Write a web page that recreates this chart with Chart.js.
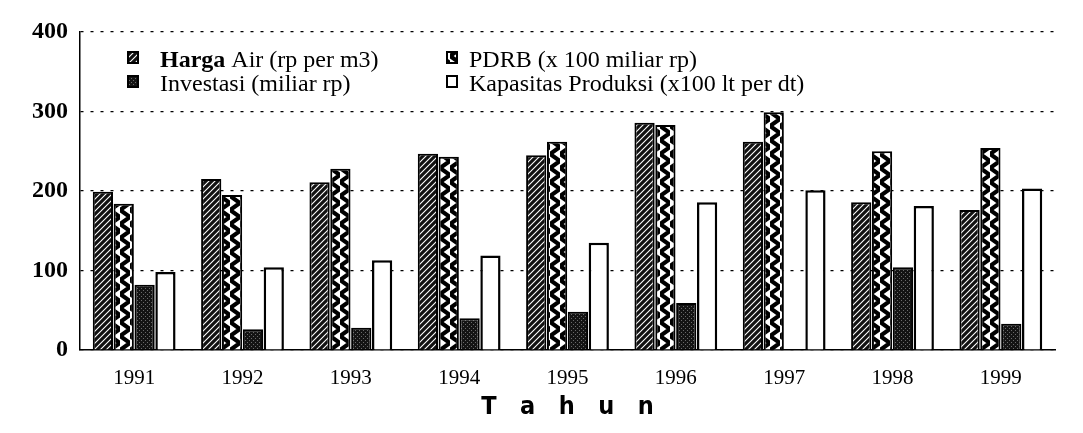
<!DOCTYPE html>
<html>
<head>
<meta charset="utf-8">
<script src="https://cdn.jsdelivr.net/npm/chart.js@4.4.0/dist/chart.umd.min.js"></script>
<style>
  html, body { margin: 0; padding: 0; background: #fff; }
  #wrap { width: 1083px; height: 433px; }
</style>
</head>
<body>
<div id="wrap"><canvas id="myChart" width="1083" height="433"></canvas></div>
<script>
// data
var tahun = ['1991', '1992', '1993', '1994', '1995', '1996', '1997', '1998', '1999'];
var seriesLabels = [
  'Harga Air (rp per m3)',
  'PDRB (x 100 miliar rp)',
  'Investasi (miliar rp)',
  'Kapasitas Produksi (x100 lt per dt)'
];
var hargaAir   = [199, 215, 211, 247, 245, 286, 262, 186, 176];
var pdrb       = [184, 195, 228, 243, 262, 283, 299, 250, 254];
var investasi  = [82, 26, 28, 40, 48, 59, 1, 104, 33];
var kapasitas  = [98, 104, 113, 119, 135, 186, 201, 181, 203];
var yTicks     = [0, 100, 200, 300, 400];

var canvas = document.getElementById('myChart');
var ctx = canvas.getContext('2d');

// fill patterns (black & white print look)
function makePattern(w, h, draw) {
  var t = document.createElement('canvas');
  t.width = w; t.height = h;
  draw(t.getContext('2d'), w, h);
  return ctx.createPattern(t, 'repeat');
}
var patHarga = makePattern(6, 6, function (g, w, h) {
  g.fillStyle = '#111'; g.fillRect(0, 0, w, h);
  g.strokeStyle = '#fff'; g.lineWidth = 1.1;
  g.beginPath();
  g.moveTo(-1, h + 1); g.lineTo(w + 1, -1);
  g.moveTo(-1, 1); g.lineTo(1, -1);
  g.moveTo(w - 1, h + 1); g.lineTo(w + 1, h - 1);
  g.stroke();
});
var patPdrb = makePattern(10, 14, function (g, w, h) {
  g.fillStyle = '#fff'; g.fillRect(0, 0, w, h);
  g.strokeStyle = '#000'; g.lineWidth = 4.2;
  g.beginPath();
  g.moveTo(0, 0); g.lineTo(w, h / 2); g.lineTo(0, h);
  g.stroke();
});
var patInvest = makePattern(4, 4, function (g, w, h) {
  g.fillStyle = '#141414'; g.fillRect(0, 0, w, h);
  g.fillStyle = '#6a6a6a';
  g.fillRect(1, 0, 1, 1); g.fillRect(3, 2, 1, 1);
});
var fills = [patHarga, patPdrb, patInvest, '#ffffff'];

// legend drawn inside the plot, two columns
var legendPos = [
  { mx: 128, tx: 160, y: 67 }, { mx: 447, tx: 469, y: 67 },
  { mx: 128, tx: 160, y: 91 }, { mx: 447, tx: 469, y: 91 }
];
var innerLegend = {
  id: 'innerLegend',
  afterDraw: function (chart) {
    var c = chart.ctx;
    c.save();
    chart.data.datasets.forEach(function (ds, i) {
      var p = legendPos[i];
      c.fillStyle = fills[i];
      c.fillRect(p.mx, p.y - 15, 10, 11);
      c.strokeStyle = '#000'; c.lineWidth = 2;
      c.strokeRect(p.mx, p.y - 15, 10, 11);
      c.fillStyle = '#000';
      c.textBaseline = 'alphabetic';
      var tx = p.tx;
      var txt = ds.label;
      if (i === 0) {
        var first = txt.split(' ')[0];
        c.font = 'bold 24px "Liberation Serif", serif';
        c.fillText(first, tx, p.y);
        tx += c.measureText(first).width;
        txt = txt.slice(first.length);
      }
      c.font = '24px "Liberation Serif", serif';
      c.fillText(txt, tx, p.y);
    });
    c.restore();
  }
};

var data = {
  labels: tahun,
  datasets: [hargaAir, pdrb, investasi, kapasitas].map(function (vals, i) {
    return {
      label: seriesLabels[i],
      data: vals,
      backgroundColor: fills[i],
      borderColor: '#000',
      borderWidth: i === 3 ? 2.5 : 2,
      borderSkipped: 'bottom',
      categoryPercentage: 0.77,
      barPercentage: 0.97
    };
  })
};

var options = {
  responsive: false,
  animation: false,
  layout: { padding: { top: 32, right: 28, left: 0, bottom: 0 } },
  plugins: {
    legend: { display: false },
    tooltip: { enabled: false }
  },
  scales: {
    x: {
      grid: { display: false },
      border: { display: true, color: '#000', width: 1.5 },
      ticks: {
        color: '#000',
        padding: 8,
        font: { family: '"Liberation Serif", serif', size: 21 }
      },
      title: {
        display: true,
        text: 'T   a   h   u   n',
        color: '#000',
        padding: { top: 0, bottom: 11 },
        font: { family: '"Liberation Sans Narrow", "DejaVu Sans Condensed", sans-serif', size: 25, weight: 'bold' }
      },
      afterFit: function (scale) { scale.height = 83; }
    },
    y: {
      min: 0,
      max: 400,
      afterBuildTicks: function (scale) {
        scale.ticks = yTicks.map(function (v) { return { value: v }; });
      },
      grid: {
        color: '#000',
        lineWidth: 1.2,
        drawTicks: false
      },
      border: { display: true, color: '#000', width: 1.5, dash: [3, 7] },
      ticks: {
        color: '#000',
        padding: 12,
        font: { family: '"Liberation Serif", serif', size: 24, weight: 'bold' }
      },
      afterFit: function (scale) { scale.width = 80; }
    }
  }
};

var myChart = new Chart(ctx, {
  type: 'bar',
  data: data,
  options: options,
  plugins: [innerLegend]
});
</script>
</body>
</html>
